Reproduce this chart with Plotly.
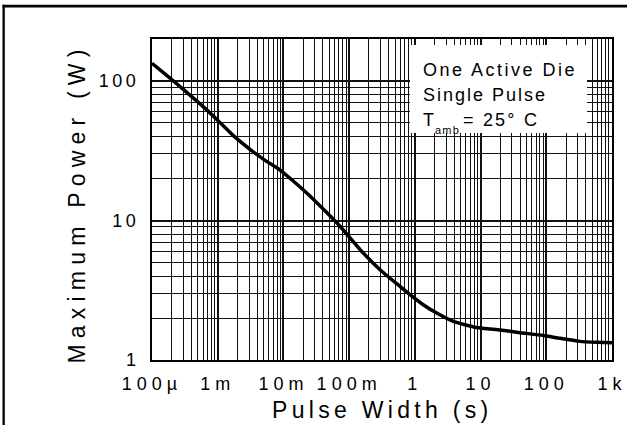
import plotly.graph_objects as go

# ---- data ----
pulse_width_s = [1e-4, 1.88e-4, 3.0e-4, 5.4e-4, 9.7e-4, 1.73e-3, 3.1e-3, 5.25e-3,
                 8.9e-3, 14.1e-3, 25.3e-3, 45.6e-3, 72.6e-3, 0.146, 0.295, 0.594,
                 0.843, 1.34, 2.15, 3.85, 8.73, 19.8, 39.8, 90, 162, 326, 585, 1000]
max_power_w = [134, 105, 87, 68.5, 53, 40.6, 32.4, 27.0, 23.0, 19.2, 15.0, 11.4, 9.1,
               6.2, 4.44, 3.37, 2.94, 2.49, 2.17, 1.89, 1.71, 1.64, 1.57, 1.50,
               1.43, 1.36, 1.34, 1.33]

x_tick_vals = [1e-4, 1e-3, 1e-2, 1e-1, 1, 10, 100, 1000]
x_tick_text = ["100µ", "1m", "10m", "100m", "1", "10", "100", "1k"]
y_tick_vals = [1, 10, 100]
y_tick_text = ["1", "10", "100"]

decades_x = [1e-4, 1e-3, 1e-2, 1e-1, 1, 10, 100]
decades_y = [1, 10, 100]
minor_mult = [2, 3, 4, 5, 6, 7, 8, 9]
x_minor = [d * m for d in decades_x for m in minor_mult]
y_minor = [d * m for d in decades_y for m in minor_mult if d * m <= 200]

FONT = "Liberation Sans"


def sp(text, px):
    return f'<span style="letter-spacing:{px}px">{text}</span>'


W, H = 627, 425
L, R, T, B = 152, 15, 39, 65
PW, PH = W - L - R, H - T - B


def px_x(p):
    return (p - L) / PW


def px_y(p):
    return (H - B - p) / PH


fig = go.Figure()
fig.add_trace(go.Scatter(
    x=pulse_width_s, y=max_power_w, mode="lines",
    line=dict(color="black", width=3.5, shape="spline", smoothing=0.5),
    showlegend=False, hoverinfo="skip"))

grid_color = "#111111"
fig.update_xaxes(
    type="log", range=[-4, 3],
    tickmode="array", tickvals=x_tick_vals,
    ticktext=[sp(t, 5) for t in x_tick_text],
    tickfont=dict(family=FONT, size=18, color="black"),
    ticks="", showgrid=True, gridcolor=grid_color, gridwidth=1.5,
    minor=dict(tickmode="array", tickvals=x_minor, showgrid=True,
               gridcolor=grid_color, gridwidth=1.25, ticks=""),
    showline=True, linecolor="black", linewidth=2, mirror=True,
    zeroline=False, automargin=False, ticklabelstandoff=6)
fig.update_yaxes(
    type="log", range=[0, 2.30103],
    tickmode="array", tickvals=y_tick_vals,
    ticktext=[sp(t, 3.5) for t in y_tick_text],
    tickfont=dict(family=FONT, size=18, color="black"),
    ticks="", showgrid=True, gridcolor=grid_color, gridwidth=1.5,
    minor=dict(tickmode="array", tickvals=y_minor, showgrid=True,
               gridcolor=grid_color, gridwidth=1.25, ticks=""),
    showline=True, linecolor="black", linewidth=2, mirror=True,
    zeroline=False, automargin=False, ticklabelstandoff=7)

shapes = [
    # white legend box
    dict(type="rect", xref="paper", yref="paper",
         x0=px_x(410), x1=px_x(587), y0=px_y(133), y1=px_y(45),
         fillcolor="white", line=dict(width=0), layer="above"),
    # outer frame edges as thin filled bands: top and left
    dict(type="rect", xref="paper", yref="paper",
         x0=px_x(2.5), x1=px_x(627), y0=px_y(7.5), y1=px_y(4.8),
         fillcolor="black", line=dict(width=0), layer="above"),
    dict(type="rect", xref="paper", yref="paper",
         x0=px_x(2.5), x1=px_x(4.8), y0=px_y(425), y1=px_y(4.8),
         fillcolor="black", line=dict(width=0), layer="above"),
]

box_font = dict(family=FONT, size=18, color="black")
annotations = [
    dict(text=sp("One Active Die", 2.5), x=px_x(421), y=px_y(70)),
    dict(text=sp("Single Pulse", 2.0), x=px_x(421), y=px_y(95.5)),
    dict(text="T", x=px_x(421), y=px_y(120.5)),
    dict(text=sp("= 25° C", 2.2), x=px_x(461), y=px_y(120.5)),
]
annotations = [dict(a, xref="paper", yref="paper", xanchor="left",
                    yanchor="middle", showarrow=False, font=box_font)
               for a in annotations]
annotations.append(dict(text=sp("amb", 1.2), x=px_x(433), y=px_y(130),
                        xref="paper", yref="paper", xanchor="left",
                        yanchor="middle", showarrow=False,
                        font=dict(family=FONT, size=11, color="black")))
annotations.append(dict(text=sp("Maximum Power (W)", 6.2), textangle=-90,
                        x=px_x(76.5), y=px_y(204), xref="paper", yref="paper",
                        xanchor="center", yanchor="middle", showarrow=False,
                        font=dict(family=FONT, size=23, color="black")))
annotations.append(dict(text=sp("Pulse Width (s)", 4.3),
                        x=px_x(382), y=px_y(410), xref="paper", yref="paper",
                        xanchor="center", yanchor="middle", showarrow=False,
                        font=dict(family=FONT, size=23, color="black")))

fig.update_layout(
    width=W, height=H,
    margin=dict(l=L, r=R, t=T, b=B, autoexpand=False),
    paper_bgcolor="white", plot_bgcolor="white",
    shapes=shapes, annotations=annotations,
    font=dict(family=FONT, color="black"),
    showlegend=False)

fig.write_html(
    "out.html",
    config={"displayModeBar": False},
    post_script="document.body.style.margin='0';"
                "document.body.style.overflow='hidden';")
